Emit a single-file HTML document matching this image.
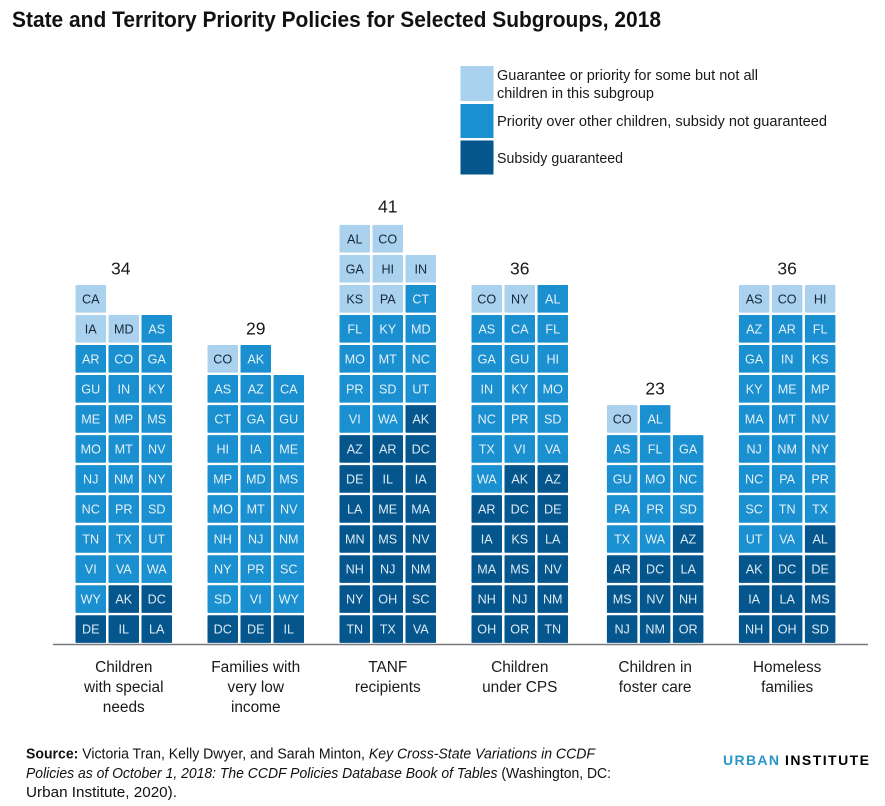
<!DOCTYPE html>
<html lang="en">
<head>
<meta charset="utf-8">
<title>State and Territory Priority Policies for Selected Subgroups, 2018</title>
<style>
  html, body { margin: 0; padding: 0; background: #fff; }
  body { width: 885px; height: 806px; overflow: hidden; }
  svg { display: block; font-family: "Liberation Sans", sans-serif; }
  .dark-text { fill: #1a1a1a; }
</style>
</head>
<body>
<svg id="chart" width="885" height="806" viewBox="0 0 885 806" xmlns="http://www.w3.org/2000/svg">
  <rect x="0" y="0" width="885" height="806" fill="#ffffff"/>
  <text x="12" y="27" font-size="22" font-weight="700" fill="#111" textLength="649" lengthAdjust="spacingAndGlyphs">State and Territory Priority Policies for Selected Subgroups, 2018</text>

  <g>
    <rect x="460.5" y="66" width="33" height="35" fill="#aad1ee"/>
    <rect x="460.5" y="104" width="33" height="34" fill="#1a90d0"/>
    <rect x="460.5" y="140.5" width="33" height="34" fill="#06568e"/>
    <text class="dark-text" x="497" y="80" font-size="14.5" textLength="261" lengthAdjust="spacingAndGlyphs">Guarantee or priority for some but not all</text>
    <text class="dark-text" x="497" y="98" font-size="14.5" textLength="157" lengthAdjust="spacingAndGlyphs">children in this subgroup</text>
    <text class="dark-text" x="497" y="126" font-size="14.5" textLength="330" lengthAdjust="spacingAndGlyphs">Priority over other children, subsidy not guaranteed</text>
    <text class="dark-text" x="497" y="163" font-size="14.5" textLength="126" lengthAdjust="spacingAndGlyphs">Subsidy guaranteed</text>
  </g>

  <g id="plot"></g>

  <line x1="53" x2="868" y1="644.5" y2="644.5" stroke="#77797b" stroke-width="1.4"/>

  <g font-size="14.5" fill="#111">
    <text x="26" y="758.5" textLength="569" lengthAdjust="spacingAndGlyphs"><tspan font-weight="700">Source:</tspan> Victoria Tran, Kelly Dwyer, and Sarah Minton, <tspan font-style="italic">Key Cross-State Variations in CCDF</tspan></text>
    <text x="26" y="778" textLength="585" lengthAdjust="spacingAndGlyphs"><tspan font-style="italic">Policies as of October 1, 2018: The CCDF Policies Database Book of Tables</tspan> (Washington, DC:</text>
    <text x="26" y="797" textLength="151" lengthAdjust="spacingAndGlyphs">Urban Institute, 2020).</text>
  </g>

  <g font-size="14" font-weight="700">
    <text x="723" y="765" fill="#2b97c9" textLength="56">URBAN</text>
    <text x="785" y="765" fill="#000" textLength="84">INSTITUTE</text>
  </g>
</svg>

<script>
// Subgroup names, split into their printed lines
const categories = [
  ["Children", "with special", "needs"],
  ["Families with", "very low", "income"],
  ["TANF", "recipients"],
  ["Children", "under CPS"],
  ["Children in", "foster care"],
  ["Homeless", "families"]
];

// Guarantee or priority for some but not all children in the subgroup
const someChildren = [
  ["CA", "IA", "MD"],
  ["CO"],
  ["AL", "CO", "GA", "HI", "IN", "KS", "PA"],
  ["CO", "NY"],
  ["CO"],
  ["AS", "CO", "HI"]
];

// Priority over other children, subsidy not guaranteed
const priorityOnly = [
  ["AS", "AR", "CO", "GA", "GU", "IN", "KY", "ME", "MP", "MS", "MO", "MT", "NV", "NJ", "NM", "NY", "NC", "PR", "SD", "TN", "TX", "UT", "VI", "VA", "WA", "WY"],
  ["AK", "AS", "AZ", "CA", "CT", "GA", "GU", "HI", "IA", "ME", "MP", "MD", "MS", "MO", "MT", "NV", "NH", "NJ", "NM", "NY", "PR", "SC", "SD", "VI", "WY"],
  ["CT", "FL", "KY", "MD", "MO", "MT", "NC", "PR", "SD", "UT", "VI", "WA"],
  ["AL", "AS", "CA", "FL", "GA", "GU", "HI", "IN", "KY", "MO", "NC", "PR", "SD", "TX", "VI", "VA", "WA"],
  ["AL", "AS", "FL", "GA", "GU", "MO", "NC", "PA", "PR", "SD", "TX", "WA"],
  ["AZ", "AR", "FL", "GA", "IN", "KS", "KY", "ME", "MP", "MA", "MT", "NV", "NJ", "NM", "NY", "NC", "PA", "PR", "SC", "TN", "TX", "UT", "VA"]
];

// Subsidy guaranteed
const subsidyGuaranteed = [
  ["AK", "DC", "DE", "IL", "LA"],
  ["DC", "DE", "IL"],
  ["AK", "AZ", "AR", "DC", "DE", "IL", "IA", "LA", "ME", "MA", "MN", "MS", "NV", "NH", "NJ", "NM", "NY", "OH", "SC", "TN", "TX", "VA"],
  ["AK", "AZ", "AR", "DC", "DE", "IA", "KS", "LA", "MA", "MS", "NV", "NH", "NJ", "NM", "OH", "OR", "TN"],
  ["AZ", "AR", "DC", "LA", "MS", "NV", "NH", "NJ", "NM", "OR"],
  ["AL", "AK", "DC", "DE", "IA", "LA", "MS", "NH", "OH", "SD"]
];

const tierFill = { some: "#aad1ee", priority: "#1a90d0", guaranteed: "#06568e" };
const tierInk = { some: "#15293a", priority: "#e4f1f9", guaranteed: "#dcebf5" };

const SVG_NS = "http://www.w3.org/2000/svg";
const plot = document.getElementById("plot");

// Axis functions
const xBand = function (group) { return 75.5 + 132 * group + (group >= 4 ? 3.4 : 0); };
const xCol = function (group, col) { return xBand(group) + 33 * col; };
const yRow = function (row) { return 615.3 - 30.03 * row; };
const CELL_W = 30.5;
const CELL_H = 27.6;

categories.forEach(function (lines, g) {
  const cells = []
    .concat(someChildren[g].map(function (s) { return { code: s, tier: "some" }; }))
    .concat(priorityOnly[g].map(function (s) { return { code: s, tier: "priority" }; }))
    .concat(subsidyGuaranteed[g].map(function (s) { return { code: s, tier: "guaranteed" }; }));

  const total = cells.length;
  const rows = Math.ceil(total / 3);
  const firstCount = total % 3 || 3;

  cells.forEach(function (cell, k) {
    const row = k < firstCount ? rows - 1 : rows - 2 - Math.floor((k - firstCount) / 3);
    const col = k < firstCount ? k : (k - firstCount) % 3;

    const rect = document.createElementNS(SVG_NS, "rect");
    rect.setAttribute("x", xCol(g, col));
    rect.setAttribute("y", yRow(row));
    rect.setAttribute("width", CELL_W);
    rect.setAttribute("height", CELL_H);
    rect.setAttribute("rx", 0.8);
    rect.setAttribute("fill", tierFill[cell.tier]);
    
    
    plot.appendChild(rect);

    const label = document.createElementNS(SVG_NS, "text");
    label.setAttribute("x", xCol(g, col) + CELL_W / 2);
    label.setAttribute("y", yRow(row) + CELL_H / 2 + 4.6);
    label.setAttribute("text-anchor", "middle");
    label.setAttribute("font-size", "12.6");
    label.setAttribute("fill", tierInk[cell.tier]);
    
    
    label.textContent = cell.code;
    plot.appendChild(label);
  });

  const center = xCol(g, 1) + CELL_W / 2;

  const totalLabel = document.createElementNS(SVG_NS, "text");
  totalLabel.setAttribute("x", center - (g === 0 ? 3 : 0));
  totalLabel.setAttribute("y", yRow(rows - 1) - (rows > 13 ? 12.5 : 10.5));
  totalLabel.setAttribute("text-anchor", "middle");
  totalLabel.setAttribute("font-size", "17.5");
  totalLabel.setAttribute("fill", "#1a1a1a");
  
  
  totalLabel.textContent = total;
  plot.appendChild(totalLabel);

  lines.forEach(function (line, i) {
    const axisLabel = document.createElementNS(SVG_NS, "text");
    axisLabel.setAttribute("x", center);
    axisLabel.setAttribute("y", 672 + 20 * i);
    axisLabel.setAttribute("text-anchor", "middle");
    axisLabel.setAttribute("font-size", "15.4");
    axisLabel.setAttribute("fill", "#1a1a1a");
    
    
    axisLabel.textContent = line;
    plot.appendChild(axisLabel);
  });
});
</script>
</body>
</html>
